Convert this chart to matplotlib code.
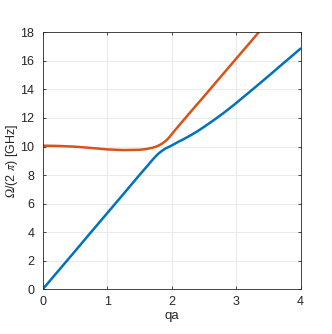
import matplotlib
matplotlib.use("Agg")
import matplotlib.pyplot as plt

plt.rcParams['font.family'] = ['Liberation Sans', 'DejaVu Sans']
plt.rcParams['mathtext.fontset'] = 'stix'

# Lower branch (blue)
q_low = [0, 0.25, 0.5, 0.75, 1.0, 1.25, 1.5, 1.6, 1.7, 1.75, 1.8, 1.85, 1.9, 1.95, 2.0,
         2.1, 2.2, 2.3, 2.4, 2.5, 2.6, 2.7, 2.8, 2.9, 3.0, 3.25, 3.5, 3.75, 4.0]
w_low = [0, 1.33, 2.66, 4.0, 5.33, 6.66, 8.0, 8.52, 9.05, 9.3, 9.52, 9.7, 9.85, 9.96, 10.07,
         10.32, 10.55, 10.8, 11.07, 11.37, 11.68, 12.0, 12.33, 12.68, 13.04, 13.98, 14.93, 15.9, 16.86]

# Upper branch (orange)
q_up = [0, 0.25, 0.5, 0.75, 1.0, 1.25, 1.5, 1.6, 1.7, 1.75, 1.8, 1.85, 1.9, 1.95, 2.0,
        2.05, 2.1, 2.2, 2.3, 2.4, 2.5, 2.75, 3.0, 3.2, 3.35]
w_up = [10.06, 10.04, 9.99, 9.9, 9.8, 9.75, 9.77, 9.82, 9.91, 9.98, 10.07, 10.2, 10.36, 10.58, 10.85,
        11.13, 11.4, 11.93, 12.46, 12.98, 13.5, 14.83, 16.15, 17.2, 18.0]

xticks = [0, 1, 2, 3, 4]
yticks = [0, 2, 4, 6, 8, 10, 12, 14, 16, 18]

fig = plt.figure(figsize=(3.32, 3.34), dpi=100)
ax = fig.add_axes([0.1285, 0.1338, 0.777, 0.7695])

ax.plot(q_low, w_low, color='#0072BD', lw=1.8, solid_joinstyle='round', solid_capstyle='round')
ax.plot(q_up, w_up, color='#D95319', lw=1.8, solid_joinstyle='round', solid_capstyle='round')

ax.set_xlim(0, 4)
ax.set_ylim(0, 18)
ax.set_xticks(xticks)
ax.set_yticks(yticks)
ax.grid(True, color='#e6e6e6', lw=0.6)
ax.set_axisbelow(True)
for s in ax.spines.values():
    s.set_color('#262626')
    s.set_linewidth(0.6)
ax.tick_params(direction='in', length=2.5, width=0.6, colors='#262626',
               top=True, right=True, labelsize=9)
ax.tick_params(axis='x', pad=4.5)
ax.tick_params(axis='y', pad=6)
ax.set_xlabel('qa', fontsize=9.5, color='#262626', labelpad=2)
ax.set_ylabel(r'$\Omega$/(2 $\pi$) [GHz]', fontsize=9, color='#262626', labelpad=0)

fig.savefig('out.png', dpi=100, facecolor='white')
